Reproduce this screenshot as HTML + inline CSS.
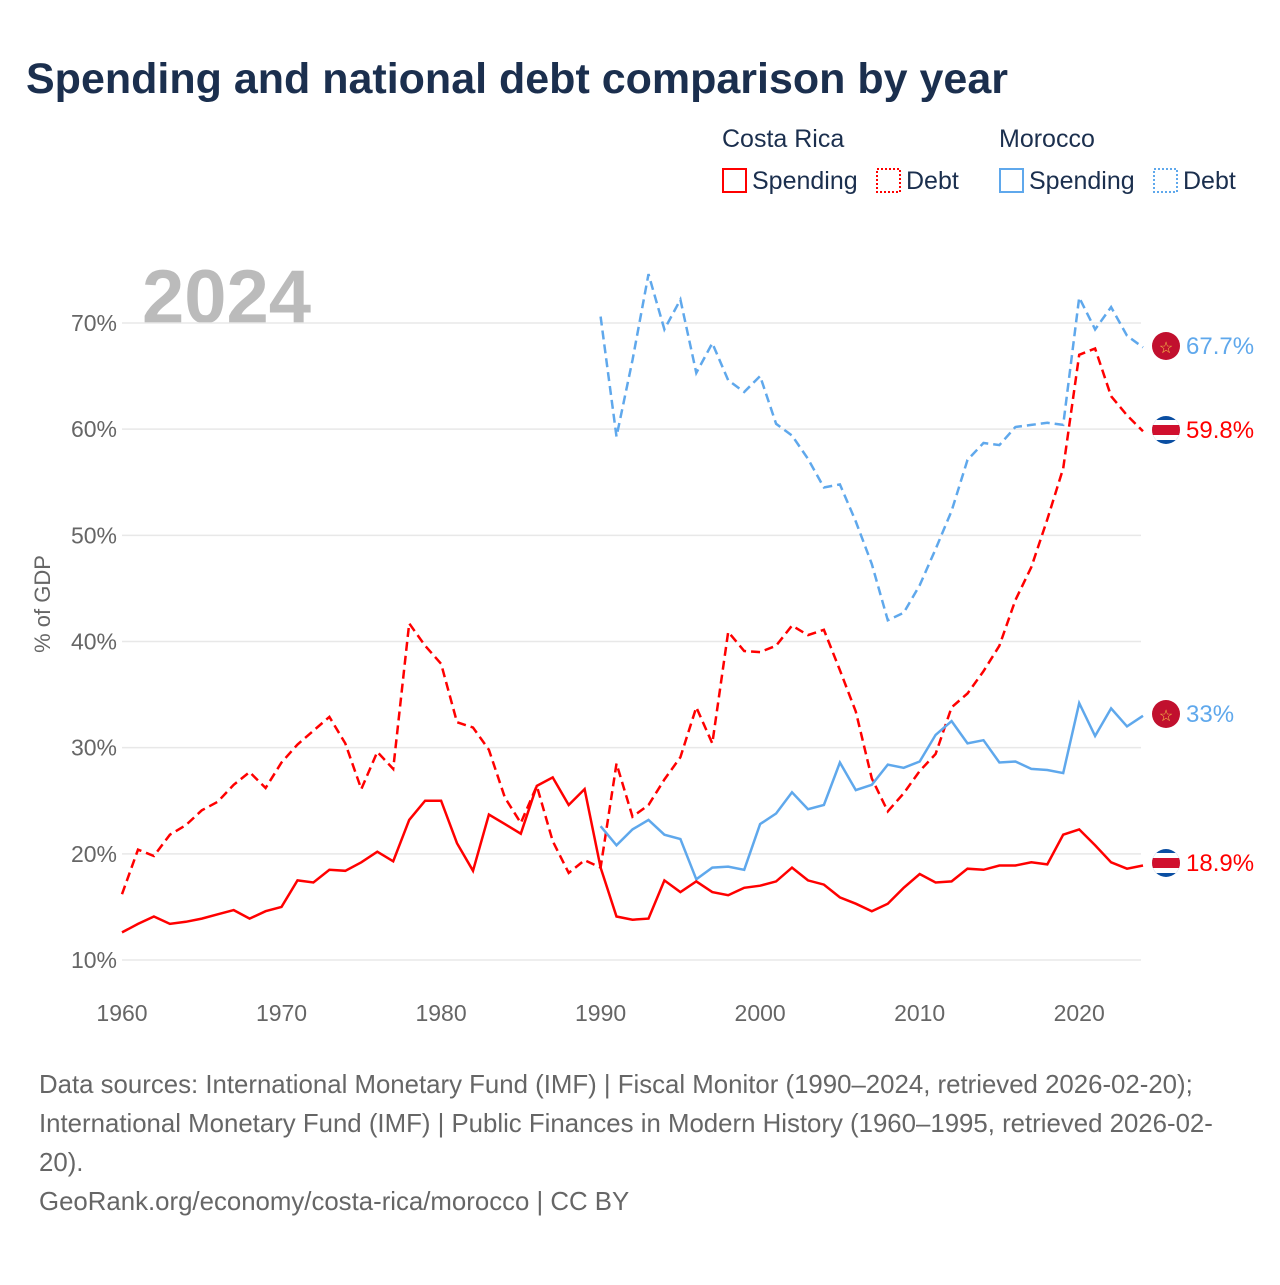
<!DOCTYPE html>
<html><head><meta charset="utf-8"><style>
body{margin:0;background:#fff;font-family:"Liberation Sans",sans-serif;}
svg text{font-family:"Liberation Sans",sans-serif;}
</style></head><body>
<svg id="chart" width="1280" height="1280" viewBox="0 0 1280 1280">
<defs>
<clipPath id="c2"><circle cx="1166" cy="430" r="14"/></clipPath>
<clipPath id="c4"><circle cx="1166" cy="863" r="14"/></clipPath>
</defs>
<text x="26" y="93" font-size="43" font-weight="bold" fill="#1b2f4e">Spending and national debt comparison by year</text>
<g font-size="25" fill="#1b2f4e">
<text x="722" y="147">Costa Rica</text>
<text x="999" y="147">Morocco</text>
<g><rect x="723" y="169" width="23" height="23" fill="none" stroke="#f00" stroke-width="2"/><text x="752" y="189">Spending</text></g>
<g><rect x="877" y="169" width="23" height="23" fill="none" stroke="#f00" stroke-width="2" stroke-dasharray="2,2"/><text x="906" y="189">Debt</text></g>
<g><rect x="1000" y="169" width="23" height="23" fill="none" stroke="#5fa8ec" stroke-width="2"/><text x="1029" y="189">Spending</text></g>
<g><rect x="1154" y="169" width="23" height="23" fill="none" stroke="#5fa8ec" stroke-width="2" stroke-dasharray="2,2"/><text x="1183" y="189">Debt</text></g>
</g>
<text x="142" y="323" font-size="76" font-weight="bold" fill="#bbb">2024</text>
<text transform="translate(50,604) rotate(-90)" text-anchor="middle" font-size="22" fill="#666">% of GDP</text>
<g id="grid"></g><g id="series"></g>
<g>
<g><circle cx="1166" cy="346" r="14" fill="#c1102e"/><text x="1166" y="353" text-anchor="middle" font-size="16" fill="#f7c948">☆</text></g>
<g clip-path="url(#c2)"><rect x="1150" y="414" width="32" height="32" fill="#0a4ea2"/><rect x="1150" y="420" width="32" height="20" fill="#fff"/><rect x="1150" y="425" width="32" height="10" fill="#d0102e"/></g>
<g><circle cx="1166" cy="714" r="14" fill="#c1102e"/><text x="1166" y="721" text-anchor="middle" font-size="16" fill="#f7c948">☆</text></g>
<g clip-path="url(#c4)"><rect x="1150" y="847" width="32" height="32" fill="#0a4ea2"/><rect x="1150" y="853" width="32" height="20" fill="#fff"/><rect x="1150" y="858" width="32" height="10" fill="#d0102e"/></g>
<text x="1186" y="354" font-size="24" fill="#5fa8ec">67.7%</text>
<text x="1186" y="438" font-size="24" fill="#f00">59.8%</text>
<text x="1186" y="722" font-size="24" fill="#5fa8ec">33%</text>
<text x="1186" y="871" font-size="24" fill="#f00">18.9%</text>
</g>
<g font-size="25.8" fill="#666">
<text x="39" y="1093">Data sources: International Monetary Fund (IMF) | Fiscal Monitor (1990–2024, retrieved 2026-02-20);</text>
<text x="39" y="1132">International Monetary Fund (IMF) | Public Finances in Modern History (1960–1995, retrieved 2026-02-</text>
<text x="39" y="1171">20).</text>
<text x="39" y="1210">GeoRank.org/economy/costa-rica/morocco | CC BY</text>
</g>
</svg>
<script>
const yTicks=[10,20,30,40,50,60,70];
const xTicks=[1960,1970,1980,1990,2000,2010,2020];
const crYears0=1960, maYears0=1990;
const crSpending=[12.6,13.4,14.1,13.4,13.6,13.9,14.3,14.7,13.9,14.6,15.0,17.5,17.3,18.5,18.4,19.2,20.2,19.3,23.2,25.0,25.0,21.0,18.4,23.7,22.8,21.9,26.4,27.2,24.6,26.1,18.7,14.1,13.8,13.9,17.5,16.4,17.4,16.4,16.1,16.8,17.0,17.4,18.7,17.5,17.1,15.9,15.3,14.6,15.3,16.8,18.1,17.3,17.4,18.6,18.5,18.9,18.9,19.2,19.0,21.8,22.3,20.8,19.2,18.6,18.9];
const crDebt=[16.2,20.4,19.8,21.8,22.7,24.1,24.9,26.5,27.7,26.2,28.6,30.3,31.6,32.9,30.4,26.1,29.6,28.0,41.7,39.6,37.9,32.4,31.9,29.8,25.3,22.9,26.4,21.2,18.2,19.4,18.7,28.5,23.5,24.6,27.0,29.1,33.8,30.4,40.9,39.1,39.0,39.6,41.5,40.6,41.1,37.3,33.4,27.1,24.0,25.7,27.8,29.4,33.8,35.1,37.2,39.6,43.9,47.0,51.5,56.3,67.0,67.6,63.1,61.3,59.8];
const maSpending=[22.6,20.8,22.3,23.2,21.8,21.4,17.6,18.7,18.8,18.5,22.8,23.8,25.8,24.2,24.6,28.6,26.0,26.5,28.4,28.1,28.7,31.2,32.5,30.4,30.7,28.6,28.7,28.0,27.9,27.6,34.2,31.1,33.7,32.0,33.0];
const maDebt=[70.6,59.3,66.5,74.6,69.4,72.2,65.3,68.1,64.6,63.5,65.0,60.5,59.4,57.2,54.5,54.8,51.3,47.3,42.0,42.7,45.3,48.7,52.3,57.1,58.7,58.5,60.2,60.4,60.6,60.4,72.4,69.4,71.5,68.8,67.7];
const NS='http://www.w3.org/2000/svg';
const X=y=>122+(y-1960)*(1021/64);
const Y=v=>960-(v-10)*10.617;
const grid=document.getElementById('grid'), ser=document.getElementById('series');
yTicks.forEach(t=>{
 const l=document.createElementNS(NS,'line');
 l.setAttribute('x1',122);l.setAttribute('x2',1141);l.setAttribute('y1',Y(t));l.setAttribute('y2',Y(t));
 l.setAttribute('stroke','#e8e8e8');l.setAttribute('stroke-width','1.5');
 
 
 grid.appendChild(l);
 const tx=document.createElementNS(NS,'text');
 tx.setAttribute('x',117);tx.setAttribute('y',Y(t)+8);tx.setAttribute('text-anchor','end');
 tx.setAttribute('font-size','23');tx.setAttribute('fill','#666');tx.textContent=t+'%';
 
 
 grid.appendChild(tx);
});
xTicks.forEach(t=>{
 const tx=document.createElementNS(NS,'text');
 tx.setAttribute('x',X(t));tx.setAttribute('y',1021);tx.setAttribute('text-anchor','middle');
 tx.setAttribute('font-size','23');tx.setAttribute('fill','#666');tx.textContent=t;
 
 
 grid.appendChild(tx);
});
function line(vals,y0,color,dash,name){
 const p=document.createElementNS(NS,'path');
 p.setAttribute('d',vals.map((v,i)=>(i?'L':'M')+X(y0+i).toFixed(1)+','+Y(v).toFixed(1)).join(''));
 p.setAttribute('fill','none');p.setAttribute('stroke',color);p.setAttribute('stroke-width','2.5');
 if(dash)p.setAttribute('stroke-dasharray','9,5');
 
 
 ser.appendChild(p);
}
line(crDebt,crYears0,'#f00',true,'costa-rica-debt-line');
line(maDebt,maYears0,'#5fa8ec',true,'morocco-debt-line');
line(maSpending,maYears0,'#5fa8ec',false,'morocco-spending-line');
line(crSpending,crYears0,'#f00',false,'costa-rica-spending-line');
</script>
</body></html>
